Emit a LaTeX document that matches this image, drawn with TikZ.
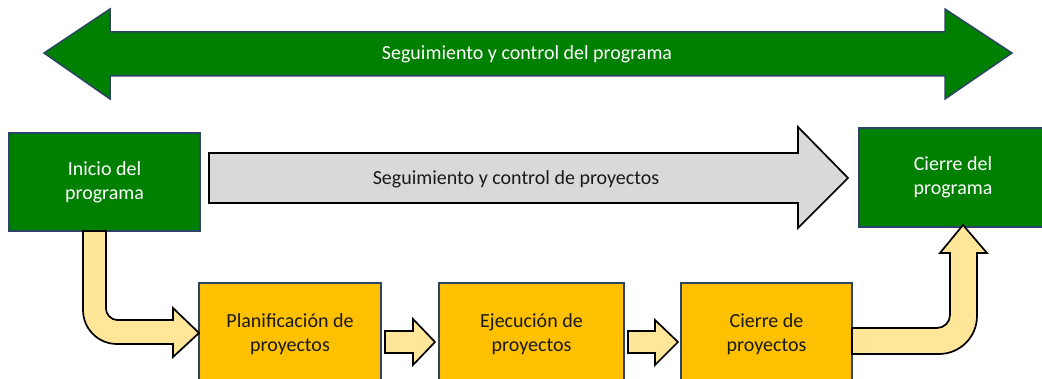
\documentclass[tikz,border=0pt]{standalone}
\usepackage{fontspec}
\setmainfont{Carlito}
\definecolor{pgreen}{HTML}{008000}
\definecolor{pyellow}{HTML}{FFC000}
\definecolor{plight}{HTML}{FFE699}
\definecolor{pgray}{HTML}{D9D9D9}
\definecolor{pedge}{HTML}{2C4465}
\definecolor{ptext}{HTML}{1A1A1A}
\begin{document}
\begin{tikzpicture}[x=1pt,y=-1pt,
  greenbox/.style={draw=pedge,line width=1.3pt,fill=pgreen,text=white,align=center,
    font=\fontsize{20}{24}\selectfont,inner sep=0pt},
  yellowbox/.style={draw=pedge,line width=1.3pt,fill=pyellow,text=ptext,align=center,
    font=\fontsize{20}{24}\selectfont,inner sep=0pt},
  lightarrow/.style={draw=black,line width=1.7pt,fill=plight,line join=miter},
  grayarrow/.style={draw=black,line width=1.7pt,fill=pgray,line join=miter},
  greenarrow/.style={draw=pedge,line width=1.5pt,fill=pgreen,line join=miter},
  label/.style={font=\fontsize{20}{24}\selectfont,inner sep=0pt}]
\useasboundingbox (0,0) rectangle (1042,379);

% top double arrow
\draw[greenarrow] (44,53) -- (110,9) -- (110,32) -- (945,32) -- (945,9) -- (1012,53)
  -- (945,99) -- (945,76) -- (110,76) -- (110,99) -- cycle;
\node[label,text=white] (progctl) at (527,54) {Seguimiento y control del programa};

% boxes
\node[greenbox,minimum width=191pt,minimum height=98pt] (inicio) at (104.5,182) {Inicio del\\programa};
\node[greenbox,minimum width=188pt,minimum height=99pt] (cierreprog) at (953,177.5) {Cierre del\\programa};
\node[yellowbox,minimum width=182pt,minimum height=102pt] (plan) at (290,334) {Planificación de\\proyectos};
\node[yellowbox,minimum width=185pt,minimum height=102pt] (ejec) at (531.5,334) {Ejecución de\\proyectos};
\node[yellowbox,minimum width=171pt,minimum height=102pt] (cierreproy) at (766.5,334) {Cierre de\\proyectos};

% gray arrow
\draw[grayarrow] (209,153) -- (798,153) -- (798,127) -- (848,178) -- (798,228) -- (798,203) -- (209,203) -- cycle;
\node[label,text=ptext] (projctl) at (516,179) {Seguimiento y control de proyectos};

% small arrows
\draw[lightarrow] (385,331) -- (413,331) -- (413,319) -- (435,342) -- (413,365) -- (413,353) -- (385,353) -- cycle;
\draw[lightarrow] (628,331) -- (655,331) -- (655,320) -- (678,342) -- (655,365) -- (655,353) -- (628,353) -- cycle;

% bent arrow from inicio to plan
\draw[lightarrow] (83,231) -- (83,310) .. controls (83,328.8) and (98.2,344) .. (117,344)
  -- (173,344) -- (173,357) -- (199,333) -- (173,308) -- (173,320) -- (117,320)
  .. controls (110.9,320) and (106,313.9) .. (106,309) -- (106,231) -- cycle;

% bent arrow from cierreproy to cierreprog
\draw[lightarrow] (852,328) -- (937,328) .. controls (944.2,328) and (950,322.2) .. (950,315)
  -- (950,253) -- (940,253) -- (963,225) -- (987,253) -- (977,253) -- (977,316)
  .. controls (977,337) and (960,354) .. (939,354) -- (852,354) -- cycle;
\end{tikzpicture}
\end{document}
